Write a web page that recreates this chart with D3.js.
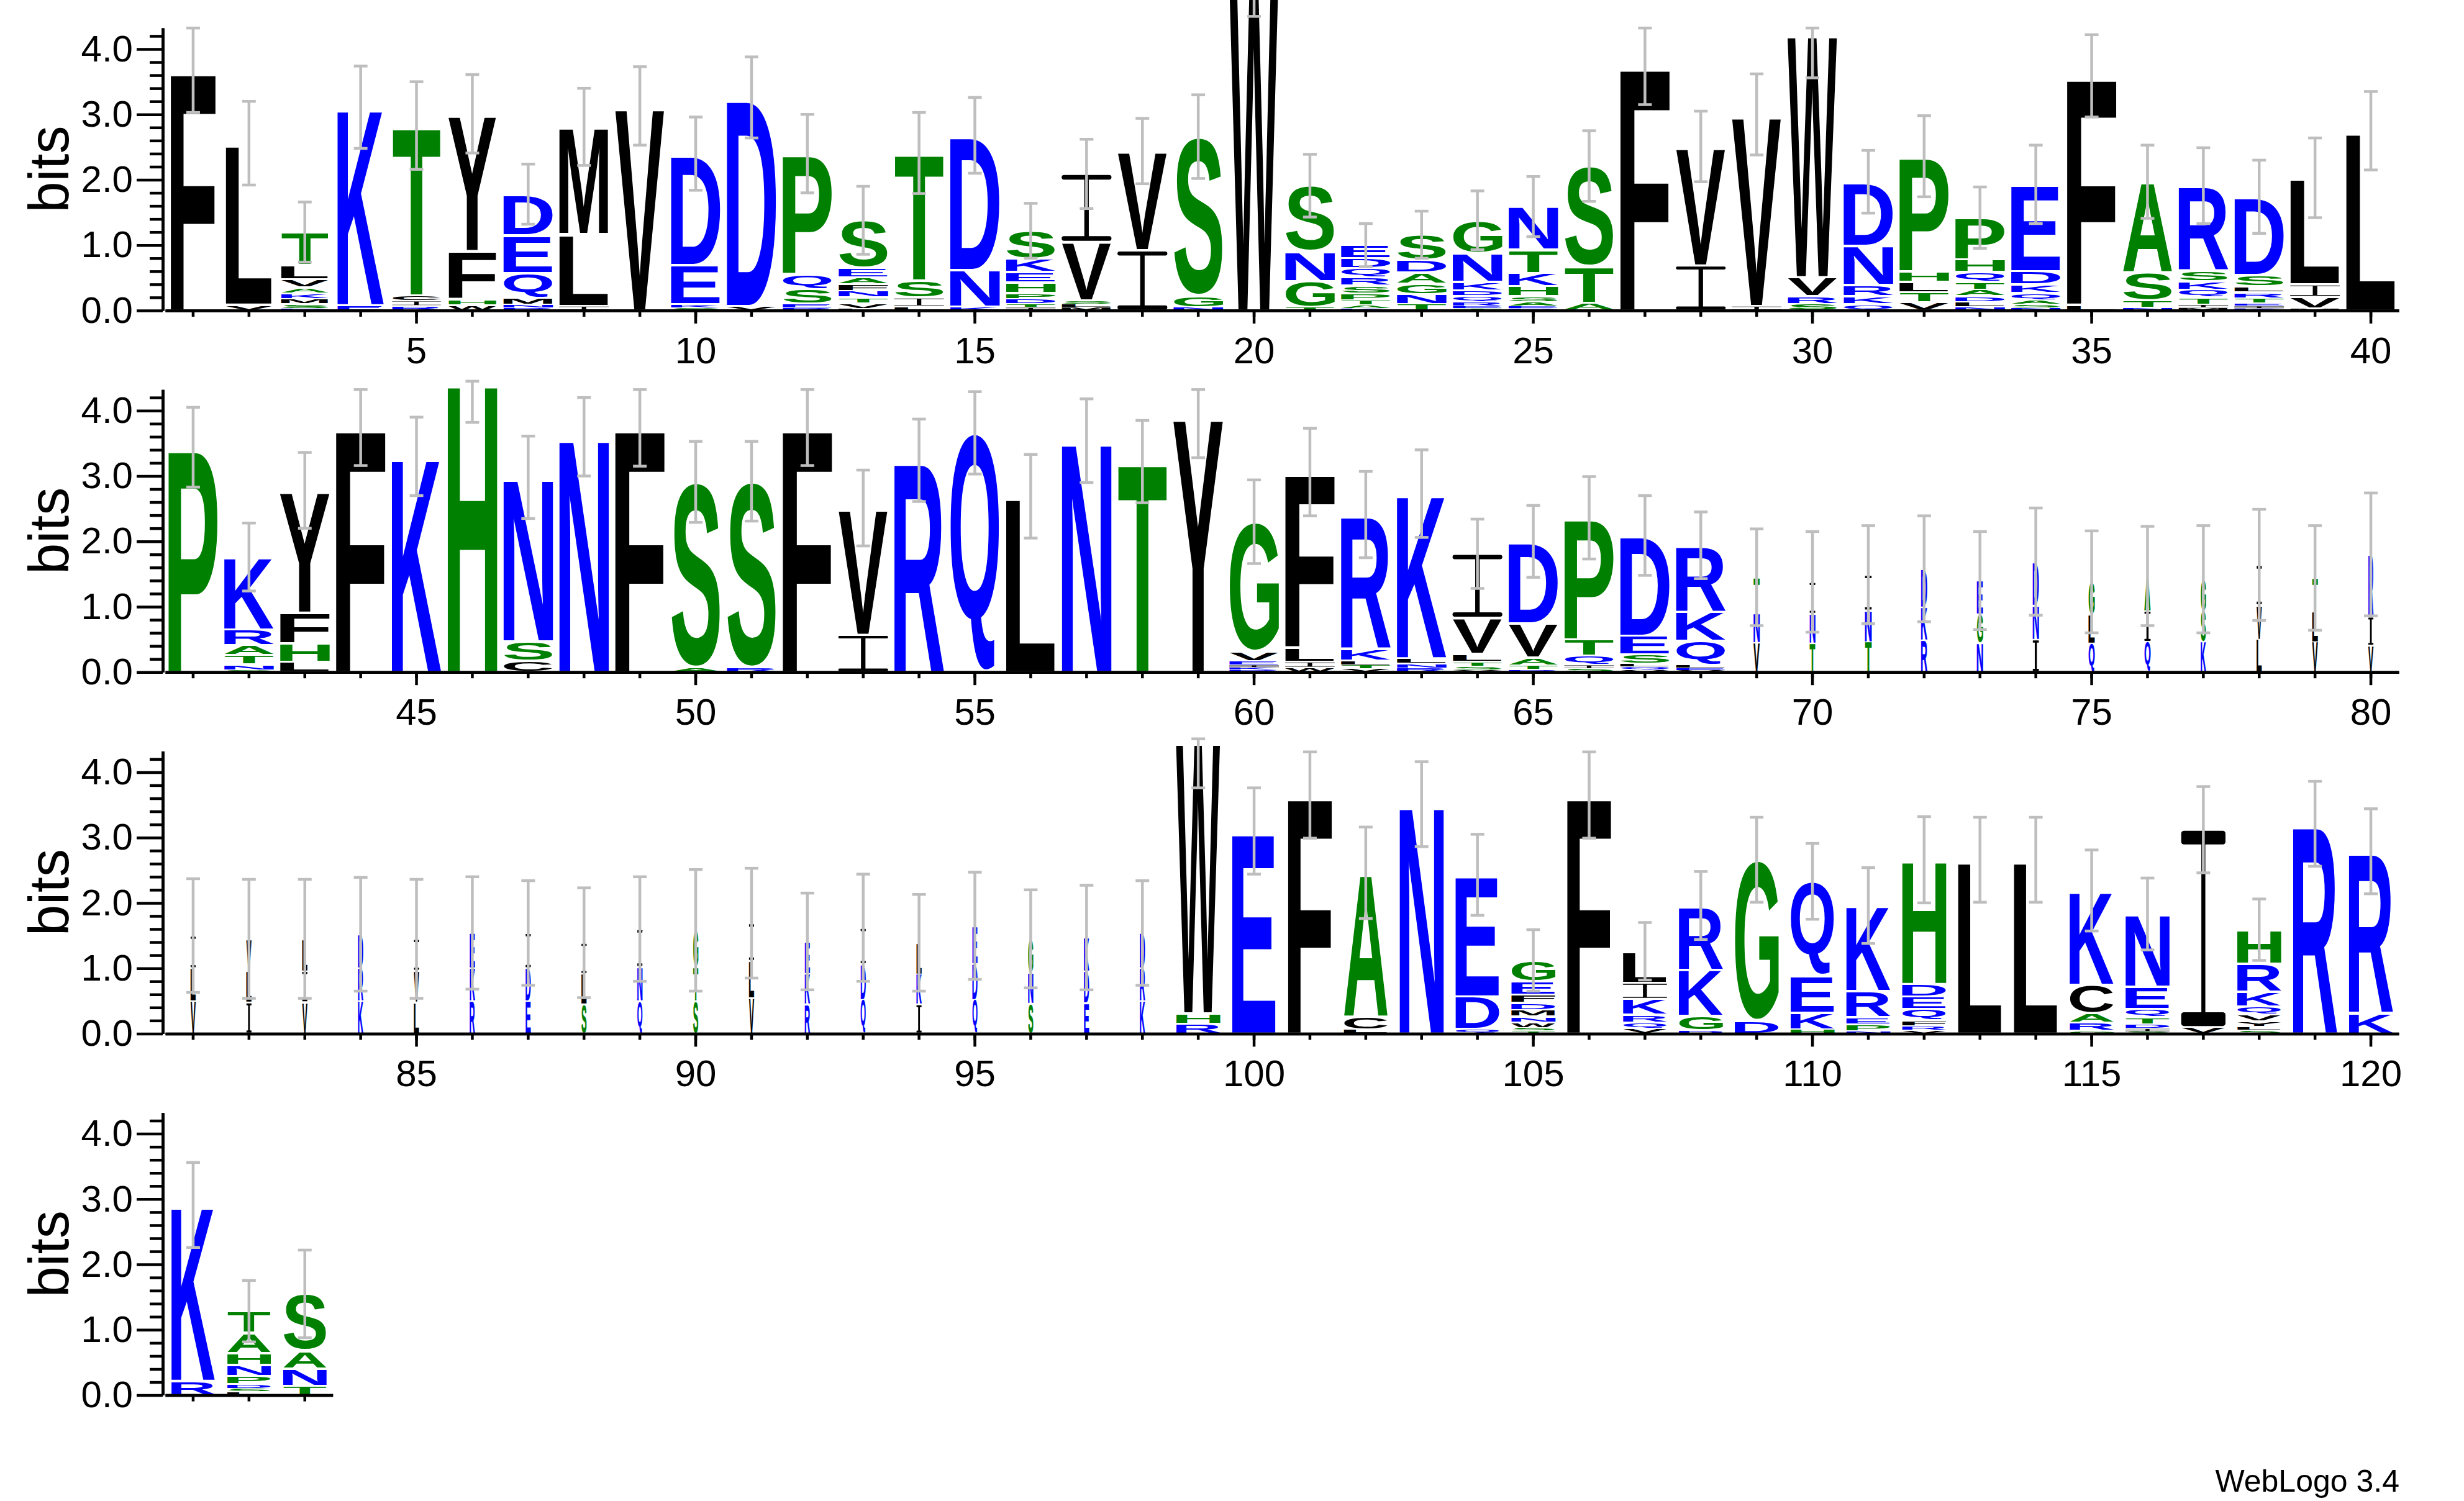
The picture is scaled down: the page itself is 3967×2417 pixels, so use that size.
<!DOCTYPE html>
<html><head><meta charset="utf-8">
<script src="https://cdn.jsdelivr.net/npm/d3@7"></script>
<style>
html,body{margin:0;padding:0;background:#fff;}
svg{display:block;}
</style></head>
<body>
<svg id="chart" width="3967" height="2417"></svg>
<script>
// ---------- DATA (letters bottom -> top, heights in bits) ----------
const letters = [
 "F","VL","DSMKAVLT","EK","RICT","WHFY","RNMQED","ILM","V","SKED",
 "VD","RESQP","LVTNFAES","LIST","KND","ITDPHEKS","MLSVI","IV","NGS","W",
 "TGNS","KATPSRQDE","TNGADS","TERQDKNG","DEASHKTN","ATS","F","IV","IV","SRVW",
 "QKRND","VTLHP","NLDATQHP","NSAQKDE","LF","NTSA","MITQKSR","KIETRLSD","MVIL","L",
 "P","SNTARK","LHFY","F","K","H","CSN","N","F","AS",
 "RS","F","IV","R","Q","L","N","T","Y","RKIEVG",
 "WILF","VTLKR","RNLK","YSTLVI","RTAVD","SIQTP","VQLSED","VELQKR","VNT","TNI",
 "TNI","RKD","NGE","IND","QLG","QIA","KSG","LVI","VLT","VIR",
 "VLI","ILV","VIL","KRD","LVI","RKE","EDI","SLI","QNI","STG",
 "VLI","RKE","QDI","IKL","QDE","SNG","EDK","KRD","RHW","E",
 "F","LCA","N","QDE","TSWNMDFEG","F","VQRKIL","DGKR","DG","HKEQ",
 "NPERK","VRFQEDH","L","L","GRACK","SIDTQEN","VI","SLYVQKRH","R","KR",
 "RK","LSDPNHAT","TNAS"
];
const heights = [
 [3.68],[0.09,2.47],[0.03,0.07,0.08,0.08,0.09,0.13,0.22,0.50],[0.08,3.03],[0.07,0.08,0.08,2.60],
 [0.08,0.09,0.74,2.10],[0.04,0.05,0.10,0.38,0.58,0.63],[0.07,1.10,1.64],[3.13],[0.04,0.06,0.60,1.70],
 [0.07,3.19],[0.04,0.06,0.23,0.23,1.84],[0.03,0.08,0.09,0.10,0.10,0.11,0.14,0.73],[0.06,0.14,0.26,1.95],[0.06,0.56,2.06],
 [0.05,0.05,0.08,0.09,0.16,0.16,0.20,0.43],[0.05,0.05,0.05,0.90,1.04],[0.92,1.52],[0.05,0.17,2.44],[5.2],
 [0.05,0.40,0.45,1.01],[0.03,0.05,0.08,0.10,0.12,0.13,0.14,0.15,0.20],[0.10,0.15,0.16,0.17,0.19,0.39],[0.03,0.04,0.07,0.08,0.09,0.13,0.44,0.50],[0.03,0.04,0.06,0.09,0.15,0.20,0.36,0.66],
 [0.12,0.55,1.54],[3.75],[0.69,1.82],[0.07,2.93],[0.10,0.12,0.29,3.75],
 [0.10,0.12,0.17,0.60,0.98],[0.13,0.15,0.16,0.16,1.76],[0.05,0.08,0.09,0.10,0.12,0.15,0.19,0.64],[0.04,0.06,0.06,0.11,0.13,0.20,1.33],[0.09,3.50],
 [0.04,0.12,0.42,1.39],[0.04,0.05,0.11,0.12,0.13,0.16,1.30],[0.03,0.04,0.04,0.08,0.09,0.09,0.17,1.20],[0.03,0.18,0.19,1.63],[2.75],
 [3.44],[0.03,0.09,0.14,0.15,0.24,1.11],[0.16,0.28,0.47,1.87],[3.75],[3.30],
 [4.45],[0.17,0.30,2.51],[3.60],[3.75],[0.06,2.85],
 [0.06,2.86],[3.75],[0.57,1.94],[3.24],[3.66],
 [2.69],[3.54],[3.22],[3.93],[0.03,0.04,0.04,0.06,0.14,1.99],
 [0.07,0.09,0.22,2.68],[0.05,0.06,0.07,0.18,2.05],[0.06,0.07,0.08,2.52],[0.03,0.06,0.07,0.12,0.55,0.98],[0.04,0.06,0.12,0.53,1.25],
 [0.05,0.06,0.14,0.25,1.86],[0.03,0.05,0.05,0.14,0.29,1.53],[0.03,0.03,0.05,0.37,0.45,1.01],[0.45,0.46,0.54],[0.44,0.45,0.49],
 [0.46,0.48,0.55],[0.49,0.50,0.59],[0.44,0.45,0.51],[0.50,0.52,0.67],[0.44,0.44,0.50],
 [0.46,0.48,0.53],[0.46,0.47,0.49],[0.50,0.52,0.62],[0.46,0.47,0.51],[0.40,0.45,0.95],
 [0.50,0.50,0.50],[0.48,0.48,0.49],[0.48,0.48,0.49],[0.50,0.50,0.52],[0.48,0.48,0.49],
 [0.50,0.50,0.54],[0.50,0.50,0.54],[0.45,0.46,0.48],[0.50,0.52,0.58],[0.50,0.52,0.56],
 [0.55,0.56,0.58],[0.45,0.47,0.49],[0.52,0.54,0.56],[0.45,0.46,0.48],[0.52,0.55,0.58],
 [0.46,0.47,0.52],[0.47,0.49,0.51],[0.50,0.50,0.54],[0.15,0.16,4.20],[3.10],
 [3.65],[0.06,0.20,2.20],[3.51],[0.07,0.50,1.86],[0.04,0.05,0.08,0.09,0.10,0.11,0.13,0.20,0.32],
 [3.65],[0.08,0.09,0.12,0.24,0.25,0.48],[0.05,0.22,0.71,0.98],[0.19,2.47],[0.06,0.26,0.57,1.44],
 [0.04,0.10,0.11,0.40,1.31],[0.05,0.07,0.08,0.18,0.19,0.19,1.90],[2.66],[2.66],[0.04,0.13,0.14,0.44,1.44],
 [0.03,0.05,0.06,0.11,0.13,0.34,1.11],[0.10,3.02],[0.05,0.05,0.09,0.10,0.12,0.23,0.43,0.52],[3.21],[0.32,2.47],
 [0.22,2.69],[0.05,0.055,0.06,0.13,0.17,0.18,0.31,0.33],[0.14,0.27,0.27,0.87]
];
const errors = [
 .65,.64,.46,.63,.67,.60,.46,.59,.60,.56,
 .62,.60,.52,.62,.58,.42,.53,.50,.64,.70,
 .48,.33,.36,.45,.46,.54,.60,.54,.62,.70,
 .48,.62,.47,.60,.63,.56,.58,.56,.61,.60,
 .61,.52,.58,.59,.60,.63,.63,.60,.60,.62,
 .61,.59,.58,.63,.63,.64,.64,.63,.65,.64,
 .67,.66,.67,.53,.55,.63,.61,.51,.74,.77,
 .75,.81,.75,.82,.78,.76,.82,.85,.80,.94,
 .87,.91,.91,.87,.91,.86,.80,.84,.80,.93,
 .84,.74,.82,.74,.82,.75,.80,.80,.75,.66,
 .66,.70,.65,.62,.47,.66,.44,.52,.65,.58,
 .58,.66,.65,.65,.62,.55,.66,.47,.65,.65,
 .65,.47,.67
];
const weights = [
 .90,.93,.95,.93,.97,.95,.99,.99,.99,.99,
 .99,.99,.99,.99,.99,.99,.99,.99,.99,.99,
 .99,.99,.99,.99,.99,.99,.99,.99,.99,.99,
 .99,.99,.99,.99,.99,.99,.99,.99,.99,.99,
 .99,.99,.99,.99,.99,.99,.99,.99,.99,.99,
 .99,.99,.99,.99,.99,.99,.99,.99,.99,.99,
 .99,.99,.99,.99,.99,.99,.99,.99,.12,.11,
 .13,.12,.12,.12,.12,.12,.10,.10,.11,.10,
 .10,.10,.10,.10,.10,.10,.10,.10,.10,.10,
 .10,.10,.10,.10,.10,.10,.10,.10,.88,.88,
 .88,.88,.88,.88,.88,.88,.88,.88,.88,.88,
 .88,.88,.88,.88,.88,.88,.88,.88,.88,.88,
 .87,.87,.87
];
const yTicks = [0,1,2,3,4];
const yTickLabels = ["0.0","1.0","2.0","3.0","4.0"];
const yMinorTicks = [0.2,0.4,0.6,0.8,1.2,1.4,1.6,1.8,2.2,2.4,2.6,2.8,3.2,3.4,3.6,3.8,4.2];
const colorGroups = {R:"#0000ff",K:"#0000ff",D:"#0000ff",E:"#0000ff",N:"#0000ff",Q:"#0000ff",
  S:"#008000",G:"#008000",H:"#008000",T:"#008000",A:"#008000",P:"#008000",
  Y:"#000000",V:"#000000",M:"#000000",C:"#000000",L:"#000000",F:"#000000",I:"#000000",W:"#000000"};

// ---------- LAYOUT ----------
const perRow = 40, colW = 89.9, plotX0 = 266, axisX = 262;
const baseY = r => 500 + 582.2*r;
const bitPx = 105.25;
const ymax = Math.log2(20);
const maxLetterW = 81;
const LABEL_FONT = '"Liberation Sans", Arial, Helvetica, sans-serif';
const GLYPH_FONT = '"Liberation Sans", Arial, Helvetica, sans-serif';

const svg = d3.select("#chart");
svg.append("rect").attr("width",3967).attr("height",2417).attr("fill","#fff");

const mctx = document.createElement("canvas").getContext("2d");
mctx.font = 'bold 1000px ' + GLYPH_FONT;
const metricCache = {};
function glyph(ch){
  if(!metricCache[ch]){
    const t = mctx.measureText(ch);
    metricCache[ch] = {l:t.actualBoundingBoxLeft, r:t.actualBoundingBoxRight, a:t.actualBoundingBoxAscent, d:t.actualBoundingBoxDescent};
  }
  return metricCache[ch];
}

// draw one glyph stretched into the box (bx,by,w,h)
function drawGlyph(parent, ch, bx, by, w, h){
  const col = colorGroups[ch];
  const narrow = w < 14;
  if(ch === "I"){
    const bh = Math.max(h*0.07, 0.6);
    const sw = narrow ? Math.max(w*0.35, 1.6) : Math.max(w*0.09, 0.8);
    const rx = Math.min(bh/2, w*0.06);
    const gI = parent.append("g").attr("fill", col);
    gI.append("rect").attr("x",bx).attr("y",by).attr("width",w).attr("height",bh).attr("rx",rx);
    gI.append("rect").attr("x",bx).attr("y",by+h-bh).attr("width",w).attr("height",bh).attr("rx",rx);
    gI.append("rect").attr("x",bx+w/2-sw/2).attr("y",by+bh*0.5).attr("width",sw).attr("height",Math.max(h-bh,0));
    return;
  }
  const m = glyph(ch);
  const iw = m.l + m.r, ih = m.a + m.d;
  const t = parent.append("text")
    .attr("transform", `translate(${bx},${by}) scale(${w/iw},${h/ih})`)
    .attr("x", m.l).attr("y", m.a)
    .attr("font-family", GLYPH_FONT)
    .attr("font-weight","bold")
    .attr("font-size",1000)
    .attr("fill", col)
    .text(ch);
  if(narrow){
    t.attr("stroke", col).attr("stroke-width", 1.0).attr("vector-effect","non-scaling-stroke");
  }
}

const nPos = letters.length;
const nRows = Math.ceil(nPos/perRow);

function styleAxis(sel){
  sel.selectAll("path.domain").attr("stroke","#000").attr("stroke-width",4.5);
  sel.selectAll(".tick line").attr("stroke","#000").attr("stroke-width",4.5);
  sel.selectAll(".tick text").attr("fill","#000");
  sel.attr("font-family",LABEL_FONT).attr("font-size",60);
}

for(let r=0;r<nRows;r++){
  const start = r*perRow + 1;
  const n = Math.min(perRow, nPos - r*perRow);
  const posList = d3.range(start, start+n);
  const x = d3.scaleBand().domain(posList).range([plotX0, plotX0 + n*colW]).padding(0);
  const y = d3.scaleLinear().domain([0, ymax]).range([baseY(r), baseY(r) - ymax*bitPx]);
  const g = svg.append("g");

  // letters
  const lg = g.append("g");
  posList.forEach(p => {
    const i = p-1;
    const cx = x(p) + x.bandwidth()/2;
    const w = maxLetterW * weights[i];
    let cum = 0;
    letters[i].split("").forEach((ch, k) => {
      const hb = heights[i][k];
      const yb = y(cum), yt = y(cum + hb);
      cum += hb;
      const hpx = yb - yt;
      const gap = Math.min(3.5, 0.3*hpx);
      const boxTop = yt + gap/2, boxH = hpx - gap;
      if(boxH <= 0.2) return;
      drawGlyph(lg, ch, cx - w/2, boxTop, w, boxH);
    });
  });

  // error bars
  const eg = g.append("g");
  posList.forEach(p => {
    const i = p-1;
    const cx = x(p) + x.bandwidth()/2;
    const top = d3.sum(heights[i]);
    const e = errors[i];
    const lower = top - e;
    const upper = Math.min(top + e, Math.max(top, ymax));
    eg.append("line").attr("x1",cx).attr("x2",cx).attr("y1",y(lower)).attr("y2",y(upper))
      .attr("stroke","#bebebe").attr("stroke-width",4.5);
    [lower, upper].forEach(v => {
      eg.append("line").attr("x1",cx-11).attr("x2",cx+11).attr("y1",y(v)).attr("y2",y(v))
        .attr("stroke","#bebebe").attr("stroke-width",4.5);
    });
  });

  // y axis: minor then major
  const yMinor = g.append("g").attr("transform",`translate(${axisX},0)`)
    .call(d3.axisLeft(y).tickValues(yMinorTicks).tickSize(21).tickSizeOuter(0).tickFormat(""));
  styleAxis(yMinor);
  const yMajor = g.append("g").attr("transform",`translate(${axisX},0)`)
    .call(d3.axisLeft(y).tickValues(yTicks).tickSize(42).tickSizeOuter(0).tickPadding(6)
      .tickFormat((d,k)=>yTickLabels[k]));
  styleAxis(yMajor);

  // x axis: minor ticks for all positions, major (labelled) for multiples of 5
  const xMinor = g.append("g").attr("transform",`translate(0,${baseY(r)})`)
    .call(d3.axisBottom(x).tickSize(10).tickSizeOuter(0).tickFormat(""));
  styleAxis(xMinor);
  const majors = posList.filter(p => p % 5 === 0);
  const xMajor = g.append("g").attr("transform",`translate(0,${baseY(r)})`)
    .call(d3.axisBottom(x).tickValues(majors).tickSize(21).tickSizeOuter(0).tickPadding(21).tickFormat(d=>d));
  styleAxis(xMajor);

  // y label
  g.append("text")
    .attr("transform",`translate(110,${baseY(r) - ymax*bitPx/2}) rotate(-90)`)
    .attr("text-anchor","middle")
    .attr("font-family",LABEL_FONT).attr("font-size",90).attr("fill","#000")
    .text("bits");
}

svg.append("text").attr("x",3863).attr("y",2402).attr("text-anchor","end")
  .attr("font-family",LABEL_FONT).attr("font-size",50).attr("fill","#000")
  .text("WebLogo 3.4");
</script>
</body></html>
